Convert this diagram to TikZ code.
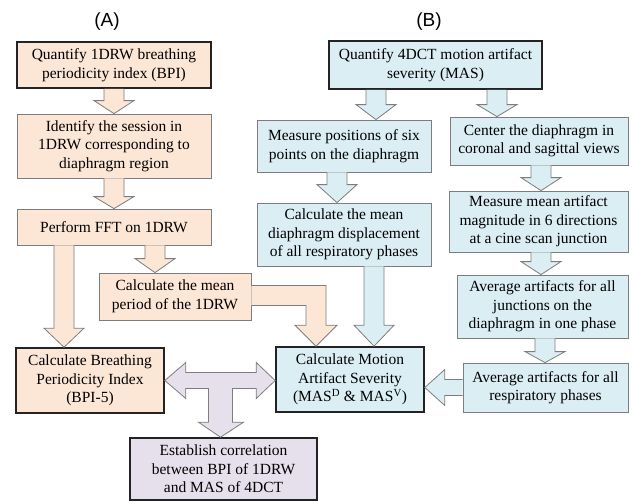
\documentclass[tikz,border=0pt]{standalone}
\usepackage{fontspec}
\setmainfont{Liberation Serif}
\newfontfamily\labelfont{Liberation Sans}
\usetikzlibrary{calc}

\definecolor{peach}{RGB}{252,230,214}
\definecolor{paleblue}{RGB}{219,238,244}
\definecolor{lilac}{RGB}{229,224,236}
\definecolor{edgegray}{RGB}{125,125,125}
\definecolor{edgedark}{RGB}{35,35,35}

% block arrow pointing down: [style]{x}{from}{to}{head length}
\newcommand{\flowdown}[5][peacharrow]{%
  \filldraw[#1] let \p1=(#3.south), \p2=(#4.north), \p3=(#2,0) in
    (\x3-10pt,\y1) -- (\x3-10pt,\y2+#5pt) -- (\x3-20pt,\y2+#5pt) -- (\x3,\y2)
    -- (\x3+20pt,\y2+#5pt) -- (\x3+10pt,\y2+#5pt) -- (\x3+10pt,\y1);}

\begin{document}
\begin{tikzpicture}[x=1pt,y=-1pt,
    box/.style={draw=edgegray,line width=0.8pt,inner sep=0pt,align=center,
      font=\fontsize{15.5}{18.5}\selectfont},
    keybox/.style={box,draw=edgedark,line width=1.6pt},
    peachbox/.style={fill=peach},
    bluebox/.style={fill=paleblue},
    lilacbox/.style={fill=lilac},
    peacharrow/.style={fill=peach,draw=edgegray,line width=0.8pt},
    bluearrow/.style={fill=paleblue,draw=edgegray,line width=0.8pt},
    lilacarrow/.style={fill=lilac,draw=edgegray,line width=0.8pt},
    tag/.style={font=\labelfont\fontsize{19}{22}\selectfont}]
  \useasboundingbox (0,0) rectangle (632,501);

  \node[tag] (taga) at (107,22) {(A)};
  \node[tag] (tagb) at (429,22) {(B)};

  % (A) breathing periodicity
  \node[keybox,peachbox,minimum width=194pt,minimum height=46pt] (bpiquant) at (114,65)
    {Quantify 1DRW breathing\\periodicity index (BPI)};
  \node[box,peachbox,minimum width=194pt,minimum height=64pt] (session) at (114,146)
    {Identify the session in\\1DRW corresponding to\\diaphragm region};
  \node[box,peachbox,minimum width=194pt,minimum height=36pt] (fft) at (114,227)
    {Perform FFT on 1DRW};
  \node[box,peachbox,minimum width=152pt,minimum height=47pt] (meanperiod) at (175,296.5)
    {Calculate the mean\\period of the 1DRW};
  \node[keybox,peachbox,minimum width=148pt,minimum height=65pt] (bpicalc) at (90,380.5)
    {Calculate Breathing\\Periodicity Index\\(BPI-5)};
  \node[keybox,lilacbox,minimum width=187pt,minimum height=62pt] (corr) at (223.5,469)
    {Establish correlation\\between BPI of 1DRW\\and MAS of 4DCT};

  % (B) motion artifact severity
  \node[keybox,bluebox,minimum width=213pt,minimum height=48pt] (masquant) at (435.5,65)
    {Quantify 4DCT motion artifact\\severity (MAS)};
  \node[box,bluebox,minimum width=174pt,minimum height=52pt] (sixpoints) at (344,146)
    {Measure positions of six\\points on the diaphragm};
  \node[box,bluebox,minimum width=178pt,minimum height=48pt] (centerview) at (539,141)
    {Center the diaphragm in\\coronal and sagittal views};
  \node[box,bluebox,minimum width=174pt,minimum height=63pt] (displacement) at (344,234.5)
    {Calculate the mean\\diaphragm displacement\\of all respiratory phases};
  \node[box,bluebox,minimum width=179pt,minimum height=61pt] (magnitude) at (538.5,221.5)
    {Measure mean artifact\\magnitude in 6 directions\\at a cine scan junction};
  \node[box,bluebox,minimum width=171pt,minimum height=63pt] (junctions) at (542.5,306.5)
    {Average artifacts for all\\junctions on the\\diaphragm in one phase};
  \node[box,bluebox,minimum width=165pt,minimum height=49pt] (phases) at (545.5,387.5)
    {Average artifacts for all\\respiratory phases};
  \node[keybox,bluebox,minimum width=148pt,minimum height=65pt] (mascalc) at (350,379.5)
    {Calculate Motion\\Artifact Severity\\(MAS\textsuperscript{D} \& MAS\textsuperscript{V})};

  \flowdown{114}{bpiquant}{session}{13}
  \flowdown{114}{session}{fft}{12}
  \flowdown{64}{fft}{bpicalc}{19}
  \flowdown{155}{fft}{meanperiod}{14}
  \flowdown[bluearrow]{376}{masquant}{sixpoints}{15}
  \flowdown[bluearrow]{497}{masquant}{centerview}{12}
  \flowdown[bluearrow]{337}{sixpoints}{displacement}{18}
  \flowdown[bluearrow]{541}{centerview}{magnitude}{13}
  \flowdown[bluearrow]{541}{magnitude}{junctions}{13}
  \flowdown[bluearrow]{545}{junctions}{phases}{11}
  \flowdown[bluearrow]{374}{displacement}{mascalc}{21}

  % elbow from the mean period
  \filldraw[peacharrow] let \p1=(meanperiod.east), \p2=(mascalc.north), \p3=(316,0) in
    (\x1,\y1+11pt) -- (\x3+10pt,\y1+11pt) -- (\x3+10pt,\y2+21pt) -- (\x3+21pt,\y2+21pt)
    -- (\x3,\y2) -- (\x3-21pt,\y2+21pt) -- (\x3-10pt,\y2+21pt) -- (\x3-10pt,\y1-9pt)
    -- (\x1,\y1-9pt);
  % phases into severity
  \filldraw[bluearrow] let \p1=(phases.west), \p2=(mascalc.east) in
    (\x1,\y1+8pt) -- (\x2+20pt,\y1+8pt) -- (\x2+20pt,\y1+18pt) -- (\x2,\y1)
    -- (\x2+20pt,\y1-18pt) -- (\x2+20pt,\y1-8pt) -- (\x1,\y1-8pt);
  % correlation T arrow
  \filldraw[lilacarrow] let \p1=(bpicalc.east), \p2=(mascalc.west), \p3=(corr.north) in
    (\x1,\y1) -- (\x1+21pt,\y1+18pt) -- (\x1+21pt,\y1+8pt) -- (\x2-19pt,\y1+8pt)
    -- (\x2-19pt,\y1+18pt) -- (\x2,\y1) -- (\x2-19pt,\y1-18pt) -- (\x2-19pt,\y1-8pt)
    -- (\x3+9pt,\y1-8pt) -- (\x3+9pt,\y3+15pt) -- (\x3+20pt,\y3+15pt) -- (\x3-3pt,\y3)
    -- (\x3-25pt,\y3+15pt) -- (\x3-15pt,\y3+15pt) -- (\x3-15pt,\y1-8pt)
    -- (\x1+21pt,\y1-8pt) -- (\x1+21pt,\y1-18pt) -- cycle;
\end{tikzpicture}
\end{document}
